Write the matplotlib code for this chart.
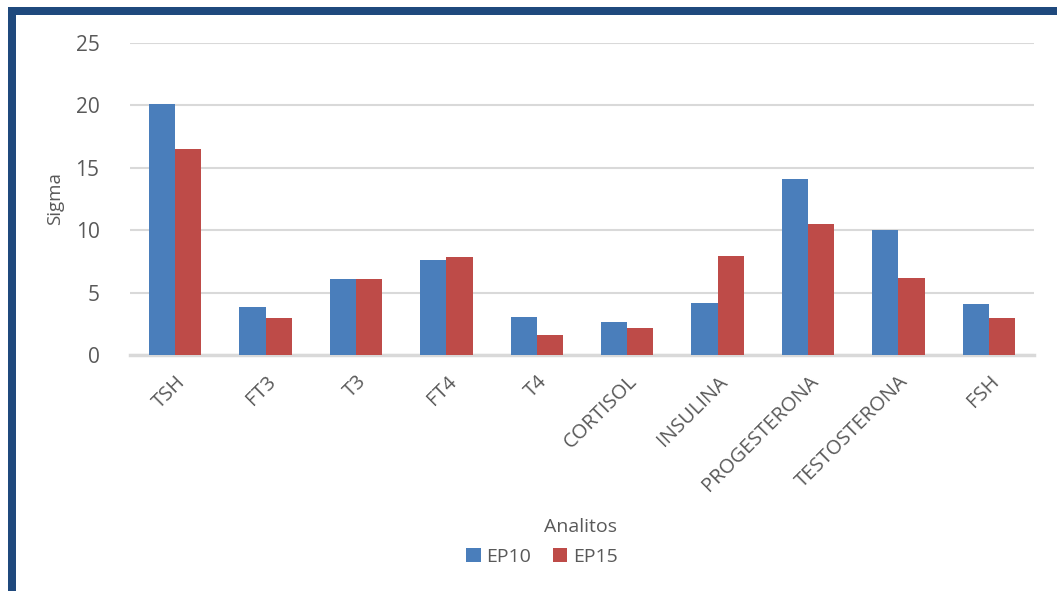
import numpy as np
import matplotlib
matplotlib.use("Agg")
import matplotlib.pyplot as plt
import matplotlib.patches as mpatches

categorias = ["TSH", "FT3", "T3", "FT4", "T4", "CORTISOL", "INSULINA",
              "PROGESTERONA", "TESTOSTERONA", "FSH"]
ep10 = [20.1, 3.85, 6.1, 7.65, 3.05, 2.65, 4.2, 14.1, 10.05, 4.1]
ep15 = [16.5, 3.0, 6.1, 7.85, 1.6, 2.15, 7.95, 10.5, 6.2, 2.95]
yticks = [0, 5, 10, 15, 20, 25]

plt.rcParams['font.family'] = ['Open Sans', 'DejaVu Sans']

fig = plt.figure(figsize=(10.57, 5.91), dpi=100)
ax = fig.add_axes([130 / 1057, 1 - 355 / 591, (1034 - 130) / 1057, (355 - 43) / 591])

x = np.arange(len(categorias))
w = 0.29
b1 = ax.bar(x - w / 2, ep10, w, color="#4a7ebb", label="EP10", zorder=3)
b2 = ax.bar(x + w / 2, ep15, w, color="#be4b48", label="EP15", zorder=3)

ax.set_xlim(-0.5, len(categorias) - 0.5)
ax.set_ylim(0, 25)
ax.set_yticks(yticks)
ax.yaxis.grid(True, color="#d9d9d9", linewidth=1.5, zorder=0)
ax.set_axisbelow(True)
for s in ["top", "right", "left"]:
    ax.spines[s].set_visible(False)
ax.spines["bottom"].set_color("#d9d9d9")
ax.spines["bottom"].set_linewidth(2.5)
ax.tick_params(axis="y", length=0, pad=22, labelsize=15, labelcolor="#595959")
ax.tick_params(axis="x", length=0, pad=12, labelsize=14.5, labelcolor="#595959")
ax.set_xticks(x)
ax.set_xticklabels(categorias, rotation=45, ha="right", rotation_mode="anchor")
ax.set_ylabel("Sigma", fontsize=13.5, color="#595959", labelpad=8)

fig.text(581 / 1057, 1 - 527 / 591, "Analitos", ha="center", va="center",
         fontsize=14, color="#595959")
fig.legend(handles=[b1, b2], loc="center", bbox_to_anchor=(542 / 1057, 1 - 557 / 591),
           ncol=2, frameon=False, fontsize=14, handlelength=0.75, handleheight=0.75,
           handletextpad=0.3, columnspacing=1.1, labelcolor="#595959")

# marco azul
azul = "#1f497d"
fig.add_artist(mpatches.Rectangle((8 / 1057, 0), 8 / 1057, 1 - 7 / 591,
                                  transform=fig.transFigure, color=azul, lw=0))
fig.add_artist(mpatches.Rectangle((8 / 1057, 1 - 15 / 591), 1, 8 / 591,
                                  transform=fig.transFigure, color=azul, lw=0))

fig.savefig("out.png", dpi=100)
